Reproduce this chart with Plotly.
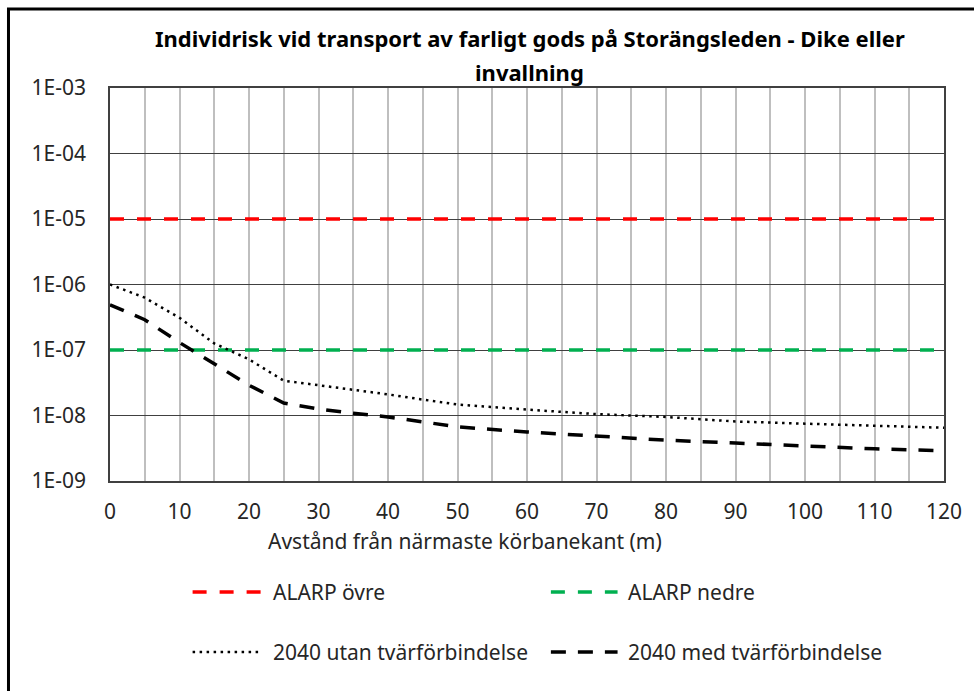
import plotly.graph_objects as go

# ---- data ----
distance = [0, 5, 10, 15, 20, 25, 30, 35, 40, 45, 50, 60, 70, 80, 90, 100, 110, 120]
utan_2040 = [1.0e-6, 6.3e-7, 3.1e-7, 1.26e-7, 7.2e-8, 3.4e-8, 2.9e-8, 2.5e-8, 2.1e-8,
             1.75e-8, 1.47e-8, 1.23e-8, 1.05e-8, 9.5e-9, 8.1e-9, 7.5e-9, 7.0e-9, 6.5e-9]
med_2040 = [4.9e-7, 2.9e-7, 1.3e-7, 6.2e-8, 2.9e-8, 1.55e-8, 1.26e-8, 1.08e-8, 9.5e-9,
            8.0e-9, 6.7e-9, 5.6e-9, 4.9e-9, 4.2e-9, 3.8e-9, 3.4e-9, 3.1e-9, 2.9e-9]
alarp_ovre = [1e-5] * len(distance)
alarp_nedre = [1e-7] * len(distance)

series_names = ["ALARP övre", "ALARP nedre", "2040 utan tvärförbindelse", "2040 med tvärförbindelse"]
x_ticks = list(range(0, 121, 5))
x_ticktext = [str(v) if v % 10 == 0 else "" for v in x_ticks]
y_tickvals = [1e-9, 1e-8, 1e-7, 1e-6, 1e-5, 1e-4, 1e-3]
y_ticktext = ["1E-09", "1E-08", "1E-07", "1E-06", "1E-05", "1E-04", "1E-03"]

title_line1 = "Individrisk vid transport av farligt gods på Storängsleden - Dike eller"
title_line2 = "invallning"
x_title = "Avstånd från närmaste körbanekant (m)"

FONT = "Noto Sans"

styles = [
    dict(color="#FF0000", width=3.5, dash="14px,13px"),
    dict(color="#00B050", width=3.5, dash="14px,13px"),
    dict(color="#000000", width=2.5, dash="2.5px,4.5px"),
    dict(color="#000000", width=3.5, dash="15px,12px"),
]
ys = [alarp_ovre, alarp_nedre, utan_2040, med_2040]

fig = go.Figure()
for name, y, st in zip(series_names, ys, styles):
    fig.add_trace(go.Scatter(x=distance, y=y, mode="lines", name=name, line=st,
                             showlegend=False))

L, R, T, B = 110, 26, 88, 210
W, H = 974, 691
pw, ph = W - L - R, H - T - B


def px(xp):
    return (xp - L) / pw


def py(yp):
    return (H - B - yp) / ph


fig.update_layout(
    width=W, height=H,
    margin=dict(l=L, r=R, t=T, b=B),
    paper_bgcolor="white", plot_bgcolor="white",
    font=dict(family=FONT, size=21, color="#262626"),
    xaxis=dict(range=[0, 120], tickvals=x_ticks, ticktext=x_ticktext,
               showgrid=True, gridcolor="#BFBFBF", gridwidth=1.5,
               showline=True, linecolor="#404040", linewidth=1.5, mirror=True,
               ticks="", zeroline=False, ticklabelstandoff=11,
               tickfont=dict(size=21)),
    yaxis=dict(type="log", range=[-9, -3], tickvals=y_tickvals, ticktext=y_ticktext,
               showgrid=True, gridcolor="#404040", gridwidth=1.2,
               showline=True, linecolor="#404040", linewidth=1.5, mirror=True,
               ticks="", zeroline=False, ticklabelstandoff=18,
               tickfont=dict(size=21)),
)

annotations = [
    dict(text="<b>" + title_line1 + "</b>", x=px(532), y=py(38), xref="paper", yref="paper",
         showarrow=False, xanchor="center", yanchor="middle", font=dict(size=22, color="#000000")),
    dict(text="<b>" + title_line2 + "</b>", x=px(532), y=py(72), xref="paper", yref="paper",
         showarrow=False, xanchor="center", yanchor="middle", font=dict(size=22, color="#000000")),
    dict(text=x_title, x=px(467), y=py(541), xref="paper", yref="paper",
         showarrow=False, xanchor="center", yanchor="middle", font=dict(size=21)),
]

shapes = [
    dict(type="rect", xref="paper", yref="paper", x0=px(8), x1=px(990), y0=py(9), y1=py(710),
         line=dict(color="#000000", width=3), fillcolor="rgba(0,0,0,0)", layer="above"),
]

# custom legend
legend_pos = [(193, 262, 272, 592), (553, 620, 628, 592), (193, 262, 272, 652), (553, 620, 628, 652)]
for name, st, (sx0, sx1, tx, yy) in zip(series_names, styles, legend_pos):
    shapes.append(dict(type="line", xref="paper", yref="paper", x0=px(sx0), x1=px(sx1),
                       y0=py(yy), y1=py(yy), line=st))
    annotations.append(dict(text=name, x=px(tx), y=py(yy), xref="paper", yref="paper",
                            showarrow=False, xanchor="left", yanchor="middle", font=dict(size=21)))

fig.update_layout(annotations=annotations, shapes=shapes)
fig.write_html("out.html")
